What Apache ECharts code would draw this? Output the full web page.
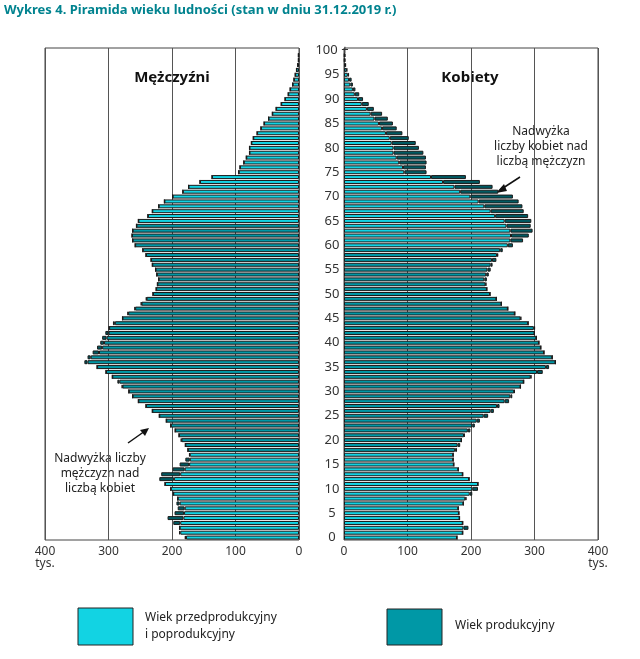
<!DOCTYPE html>
<html><head><meta charset="utf-8">
<script src="https://cdn.jsdelivr.net/npm/echarts@6/dist/echarts.min.js"></script>
<style>html,body{margin:0;padding:0;background:#fff}#c{width:640px;height:659px}</style>
</head><body><div id="c"></div>
<script>
const ages = Array.from({length:101},(_,i)=>String(i));
const men = [180,189,188,198,207,196,191,193,191,198,202,211,220,217,199,188,179,173,175,179,186,189,195,202,209,220,231,241,253,262,268,279,286,294,304,318,338,
333,325,318,313,310,305,299,293,278,270,259,249,241,230,225,223,221,224,226,231,233,241,246,258,262,263,262,256,253,238,231,221,212,199,183,174,156,137,95,93,87,83,78,78,75,72,66,60,55,48,42,36,28,22,17,14,10,8,6,4,2,1,1,1];
const women = [178,187,196,187,182,181,180,188,193,202,211,211,197,187,180,173,172,172,178,183,185,190,199,206,214,227,236,245,260,265,269,278,283,295,313,323,333,328,315,310,307,303,300,301,290,279,269,258,248,240,230,
225,224,225,228,231,234,240,243,250,266,282,291,297,294,295,290,283,281,275,266,243,234,214,192,130,129,130,129,125,118,113,102,92,83,77,69,60,47,39,30,24,18,14,12,8,5,3,2,2];
const workMen = [18,64], workWomen = [18,59];
const LIGHT='#12d3e3', MID='#0098a6', DARK='#005a62';
function base(arr, other, work){return arr.map((v,i)=>({value:Math.min(v,other[i]),itemStyle:{color:(i>=work[0]&&i<=work[1])?MID:LIGHT}}));}
function excess(arr, other){return arr.map((v,i)=>Math.max(v-other[i],0));}
const bs={borderColor:'#1a1a1a',borderWidth:1};
const ch=echarts.init(document.getElementById('c'));
const axLab={color:'#333',fontSize:12,fontFamily:'Noto Sans'};
ch.setOption({
animation:false,
grid:[{left:45,width:254,top:48,height:492,show:true,borderColor:'#444',borderWidth:1},
      {left:344,width:254,top:48,height:492,show:true,borderColor:'#444',borderWidth:1}],
xAxis:[{gridIndex:0,type:'value',inverse:true,min:0,max:400,interval:100,axisLine:{show:false},axisTick:{show:false},
  splitLine:{lineStyle:{color:'#555'}},axisLabel:{...axLab,margin:6,formatter:v=>v===400?'400\ntys.':String(v),lineHeight:12}},
 {gridIndex:1,type:'value',min:0,max:400,interval:100,axisLine:{show:false},axisTick:{show:false},
  splitLine:{lineStyle:{color:'#555'}},axisLabel:{...axLab,margin:6,formatter:v=>v===400?'400\ntys.':String(v),lineHeight:12}}],
yAxis:[{gridIndex:0,type:'category',data:ages,axisLabel:{show:false},axisTick:{show:false},axisLine:{show:false}},
 {gridIndex:1,type:'category',data:ages,axisTick:{show:false},axisLine:{show:false},
  axisLabel:{...axLab,fontSize:13,margin:12,align:'center',interval:(i)=>i%5===0,formatter:v=>v==='100'?'100 +':v}}],
series:[
 {type:'bar',xAxisIndex:0,yAxisIndex:0,stack:'m',data:base(men,women,workMen),itemStyle:bs,barCategoryGap:'18%'},
 {type:'bar',xAxisIndex:0,yAxisIndex:0,stack:'m',data:excess(men,women),itemStyle:{...bs,color:DARK}},
 {type:'bar',xAxisIndex:1,yAxisIndex:1,stack:'w',data:base(women,men,workWomen),itemStyle:bs,barCategoryGap:'18%'},
 {type:'bar',xAxisIndex:1,yAxisIndex:1,stack:'w',data:excess(women,men),itemStyle:{...bs,color:DARK}}
],
graphic:[
 {type:'text',left:4,top:4,style:{text:'Wykres 4. Piramida wieku ludności (stan w dniu 31.12.2019 r.)',fill:'#00838f',font:'bold 13px "Noto Sans"'}},
 {type:'text',x:172,y:78,style:{text:'Mężczyźni',fill:'#111',font:'bold 15px "Noto Sans"',align:'center',verticalAlign:'middle',backgroundColor:'#fff',padding:[2,2]}},
 {type:'text',x:470,y:78,style:{text:'Kobiety',fill:'#111',font:'bold 15px "Noto Sans"',align:'center',verticalAlign:'middle',backgroundColor:'#fff',padding:[2,2]}},
 {type:'text',x:541,y:124,style:{text:'Nadwyżka\nliczby kobiet nad\nliczbą mężczyzn',fill:'#222',font:'12px "Noto Sans"',align:'center',lineHeight:15,backgroundColor:'#fff'}},
 {type:'line',shape:{x1:520,y1:177,x2:500,y2:190},style:{stroke:'#111',lineWidth:1.5}},
 {type:'polygon',shape:{points:[[496,193],[504,184],[507,191]]},style:{fill:'#111'}},
 {type:'text',x:100,y:451,style:{text:'Nadwyżka liczby\nmężczyzn nad\nliczbą kobiet',fill:'#222',font:'12px "Noto Sans"',align:'center',lineHeight:15,backgroundColor:'#fff'}},
 {type:'line',shape:{x1:128,y1:443,x2:145,y2:431},style:{stroke:'#111',lineWidth:1.5}},
 {type:'polygon',shape:{points:[[149,428],[140,430],[145,436]]},style:{fill:'#111'}},
 {type:'rect',shape:{x:78,y:608,width:55,height:37},style:{fill:LIGHT,stroke:'#222',lineWidth:1}},
 {type:'text',x:145,y:609,style:{text:'Wiek przedprodukcyjny\ni poprodukcyjny',fill:'#222',font:'12px "Noto Sans"',lineHeight:17}},
 {type:'rect',shape:{x:387,y:609,width:55,height:36},style:{fill:MID,stroke:'#222',lineWidth:1}},
 {type:'text',x:455,y:620,style:{text:'Wiek produkcyjny',fill:'#222',font:'12px "Noto Sans"'}}
]
});
</script></body></html>
